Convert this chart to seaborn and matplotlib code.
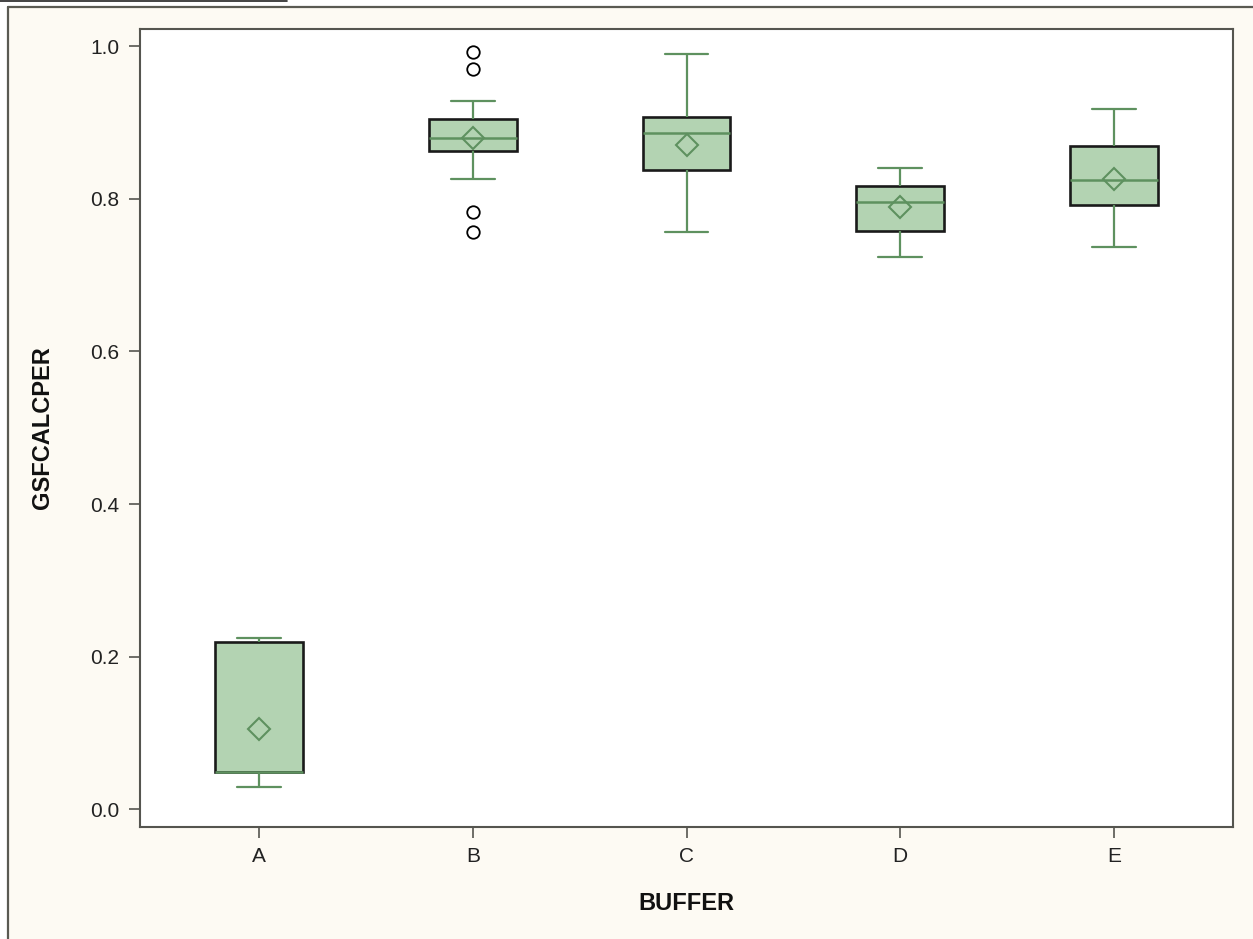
import numpy as np
import pandas as pd
import matplotlib
matplotlib.use("Agg")
import matplotlib.pyplot as plt
from matplotlib.lines import Line2D
from matplotlib.patches import Rectangle
import seaborn as sns

# Valeurs (GSFCALCPER par BUFFER)
buffers = ["A", "B", "C", "D", "E"]
whisker_lo = [0.030, 0.826, 0.757, 0.724, 0.737]
q1 = [0.0485, 0.862, 0.837, 0.758, 0.792]
medians = [0.0485, 0.880, 0.886, 0.796, 0.824]
q3 = [0.220, 0.904, 0.907, 0.817, 0.869]
whisker_hi = [0.225, 0.928, 0.990, 0.840, 0.918]
means = [0.106, 0.880, 0.870, 0.789, 0.826]
outliers_lo = {"B": [0.756, 0.783]}
outliers_hi = {"B": [0.970, 0.992]}

# Table longue : chaque groupe est construit pour que les quartiles tombent juste
rows = []
for i, b in enumerate(buffers):
    vals = (outliers_lo.get(b, []) + [whisker_lo[i]] + [q1[i]] * 3 + [medians[i]]
            + [q3[i]] * 3 + [whisker_hi[i]] + outliers_hi.get(b, []))
    rows += [(b, v) for v in vals]
df = pd.DataFrame(rows, columns=["BUFFER", "GSFCALCPER"])

W, H = 1253, 939
bg = "#FDFAF3"
green = "#5E915F"
fill = "#B3D3B2"

sns.set_style("ticks")
plt.rcParams["font.family"] = ["Liberation Sans", "DejaVu Sans"]

fig = plt.figure(figsize=(W / 100, H / 100), dpi=100, facecolor="white")
# cadre crème
fig.add_artist(Rectangle((8 / W, 0), 1, (H - 7) / H, transform=fig.transFigure,
                         facecolor=bg, edgecolor="none", zorder=-10))
fig.add_artist(Line2D([8 / W, 8 / W], [0, (H - 7) / H], transform=fig.transFigure,
                      color="#5a5a52", lw=1.6))
fig.add_artist(Line2D([8 / W, 1], [(H - 7) / H, (H - 7) / H], transform=fig.transFigure,
                      color="#5a5a52", lw=1.6))
fig.add_artist(Line2D([0, 287 / W], [(H - 0.5) / H, (H - 0.5) / H], transform=fig.transFigure,
                      color="#222222", lw=1.2))

ax = fig.add_axes([140 / W, (H - 826.5) / H, (1232.7 - 140) / W, (826.5 - 29) / H])
ax.set_facecolor("white")

sns.boxplot(data=df, x="BUFFER", y="GSFCALCPER", order=buffers, ax=ax,
            width=0.41, whis=1.5, linewidth=1.5,
            boxprops=dict(facecolor=fill, edgecolor="#1a1a1a", linewidth=1.9),
            whiskerprops=dict(color=green, linewidth=1.6),
            capprops=dict(color=green, linewidth=1.6),
            medianprops=dict(color=green, linewidth=1.8),
            flierprops=dict(marker="o", markerfacecolor="none", markeredgecolor="black",
                            markersize=9, markeredgewidth=1.3))

sns.pointplot(x=buffers, y=means, order=buffers, ax=ax, linestyle="none",
              markers="D", color=green, errorbar=None,
              markersize=11, markerfacecolor="none", markeredgewidth=1.5)

ax.set_xlim(-0.558, 4.556)
ax.set_ylim(-0.0223, 1.0223)
ax.set_yticks(np.arange(0, 1.01, 0.2))
ax.set_yticklabels([f"{t:.1f}" for t in np.arange(0, 1.01, 0.2)])

for s in ax.spines.values():
    s.set_visible(True)
    s.set_color("#55554f")
    s.set_linewidth(1.5)
ax.tick_params(axis="both", direction="out", length=8, width=1.2, color="#55554f",
               labelsize=15, labelcolor="#222222", pad=7)

ax.set_xlabel("BUFFER", fontsize=17, fontweight="bold", color="#111111")
ax.set_ylabel("GSFCALCPER", fontsize=17, fontweight="bold", color="#111111")
ax.xaxis.set_label_coords(0.5, -(892 - 826.5) / 797.5)
ax.yaxis.set_label_coords(-(140 - 54) / 1092.7, 0.5)

fig.savefig("out.png", dpi=100, facecolor=fig.get_facecolor())
